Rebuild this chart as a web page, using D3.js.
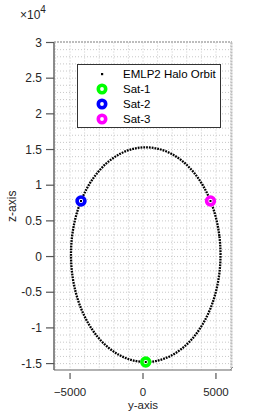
<!DOCTYPE html>
<html><head><meta charset="utf-8">
<script src="https://cdn.jsdelivr.net/npm/d3@7"></script>
<style>html,body{margin:0;padding:0;background:#fff;}svg{display:block;}</style>
</head><body>
<script>
// Halo orbit points (y, z)
const orbitY = [5312, 5234, 5003, 4626, 4113, 3482, 2750, 1940, 1078, 188, -702, -1564, -2374, -3106, -3737, -4250, -4627, -4858, -4936, -4858, -4627, -4250, -3737, -3106, -2374, -1564, -702, 188, 1078, 1940, 2750, 3482, 4113, 4626, 5003, 5234];
const orbitZ = [267, 2879, 5412, 7790, 9938, 11792, 13296, 14405, 15083, 15312, 15083, 14405, 13296, 11792, 9938, 7790, 5412, 2879, 267, -2345, -4878, -7256, -9404, -11258, -12762, -13871, -14549, -14778, -14549, -13871, -12762, -11258, -9404, -7256, -4878, -2345];
const satNames = ["Sat-1", "Sat-2", "Sat-3"];
const satColors = ["#00ff00", "#0000ff", "#ff00ff"];
const satY = [188, -4250, 4626];
const satZ = [-14778, 7790, 7790];
const legendLabels = ["EMLP2 Halo Orbit", "Sat-1", "Sat-2", "Sat-3"];
const xTicks = [-5000, 0, 5000];
const zTicks = [-15000, -10000, -5000, 0, 5000, 10000, 15000, 20000, 25000, 30000];
const zTickLabels = ["-1.5", "-1", "-0.5", "0", "0.5", "1", "1.5", "2", "2.5", "3"];

const W = 261, H = 417;
const L = 54, R = 232, T = 42.5, B = 370;
const svg = d3.select("body").append("svg").attr("width", W).attr("height", H)
  .style("font-family", "'Liberation Sans', Arial, sans-serif");

const x = d3.scaleLinear().domain([-6100, 6100]).range([L, R]);
const z = d3.scaleLinear().domain([-15900, 30000]).range([B, T]);

// grid (minor + major), dotted
const gx = d3.range(-6000, 6001, 1000);
const gz = d3.range(-15000, 30001, 1000);
svg.append("g").selectAll("line").data(gx).join("line")
  .attr("x1", d => x(d)).attr("x2", d => x(d)).attr("y1", T).attr("y2", B)
  .attr("stroke", "#c8c8c8").attr("stroke-width", 1).attr("stroke-dasharray", "1 2");
svg.append("g").selectAll("line").data(gz).join("line")
  .attr("x1", L).attr("x2", R).attr("y1", d => z(d)).attr("y2", d => z(d))
  .attr("stroke", "#c8c8c8").attr("stroke-width", 1).attr("stroke-dasharray", "1 2");

// 3D box back edges (hatched look)
svg.append("line").attr("x1", L).attr("x2", R).attr("y1", T - 0.5).attr("y2", T - 0.5)
  .attr("stroke", "#bdbdbd").attr("stroke-width", 2).attr("stroke-dasharray", "2 1");
svg.append("line").attr("x1", R - 0.5).attr("x2", R - 0.5).attr("y1", T).attr("y2", B - 2)
  .attr("stroke", "#bdbdbd").attr("stroke-width", 2).attr("stroke-dasharray", "2 1");

// axes lines
svg.append("line").attr("x1", L).attr("x2", L).attr("y1", T).attr("y2", B)
  .attr("stroke", "#666").attr("stroke-width", 1.5);
svg.append("line").attr("x1", L).attr("x2", R).attr("y1", B).attr("y2", B)
  .attr("stroke", "#666").attr("stroke-width", 1.2);
svg.append("line").attr("x1", R - 2).attr("x2", R + 1).attr("y1", B).attr("y2", B - 3)
  .attr("stroke", "#888").attr("stroke-width", 1);

// z ticks
const zt = svg.append("g");
zt.selectAll("line").data(zTicks).join("line")
  .attr("x1", L - 8).attr("x2", L).attr("y1", d => z(d)).attr("y2", d => z(d))
  .attr("stroke", "#555").attr("stroke-width", 1.2);
zt.selectAll("text").data(zTicks).join("text")
  .attr("x", L - 12).attr("y", d => z(d)).attr("dy", "0.35em")
  .attr("text-anchor", "end").attr("font-size", "12px").attr("fill", "#262626")
  .text((d, i) => zTickLabels[i]);

// x ticks
const xt = svg.append("g");
xt.selectAll("line").data(xTicks).join("line")
  .attr("x1", d => x(d)).attr("x2", d => x(d)).attr("y1", B + 3).attr("y2", B + 9)
  .attr("stroke", "#555").attr("stroke-width", 1.2);
xt.selectAll("text").data(xTicks).join("text")
  .attr("x", d => x(d)).attr("y", 396)
  .attr("text-anchor", "middle").attr("font-size", "11.5px").attr("fill", "#262626")
  .text(d => d3.format("d")(d));

// exponent label
const ex = svg.append("text").attr("x", 20).attr("y", 19).attr("font-size", "12px").attr("fill", "#262626");
ex.append("tspan").text("\u00d710");
ex.append("tspan").attr("dy", -6).attr("font-size", "10px").text("4");

// axis labels
svg.append("text").attr("x", (L + R) / 2).attr("y", 409).attr("text-anchor", "middle")
  .attr("font-size", "11.5px").attr("fill", "#262626").text("y-axis");
svg.append("text").attr("transform", `translate(16,${(T + B) / 2}) rotate(-90)`)
  .attr("text-anchor", "middle").attr("font-size", "12px").attr("fill", "#262626").text("z-axis");

// orbit
const pts = orbitY.map((d, i) => [d, orbitZ[i]]);
svg.append("path").datum(pts)
  .attr("d", d3.line().x(d => x(d[0])).y(d => z(d[1])).curve(d3.curveCatmullRomClosed))
  .attr("fill", "none").attr("stroke", "#000").attr("stroke-width", 2.3).attr("stroke-dasharray", "1.8 1");

// satellites
const sats = svg.append("g");
satY.forEach((v, i) => {
  sats.append("circle").attr("cx", x(v)).attr("cy", z(satZ[i])).attr("r", 3.9)
    .attr("fill", "#fff").attr("stroke", satColors[i]).attr("stroke-width", 3.6);
  sats.append("rect").attr("x", x(v) - 1).attr("y", z(satZ[i]) - 1).attr("width", 2).attr("height", 2).attr("fill", "#000");
});

// legend
const lg = svg.append("g");
lg.append("rect").attr("x", 77.5).attr("y", 64.5).attr("width", 143).attr("height", 63)
  .attr("fill", "#fff").attr("stroke", "#333").attr("stroke-width", 1);
legendLabels.forEach((t, i) => {
  const cy = 74 + i * 15;
  if (i === 0) {
    lg.append("rect").attr("x", 101).attr("y", cy - 1).attr("width", 2.2).attr("height", 2.2).attr("fill", "#000");
  } else {
    lg.append("circle").attr("cx", 102).attr("cy", cy).attr("r", 3.7)
      .attr("fill", "#fff").attr("stroke", satColors[i - 1]).attr("stroke-width", 3.6);
  }
  lg.append("text").attr("x", 123).attr("y", cy).attr("dy", "0.36em")
    .attr("font-size", "11.5px").attr("fill", "#000").text(t);
});
</script>
</body></html>
